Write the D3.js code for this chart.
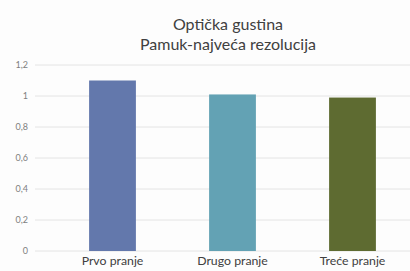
<!DOCTYPE html>
<html>
<head>
<meta charset="utf-8">
<script src="https://cdn.jsdelivr.net/npm/d3@7"></script>
<style>
  body { margin: 0; background: #fdfdfd; }
  svg { display: block; }
</style>
</head>
<body>
<svg width="410" height="271"></svg>
<script>
const categories = ['Prvo pranje', 'Drugo pranje', 'Treće pranje']
const values = [1.10, 1.01, 0.99]
const colors = ['#6378ac', '#63a2b4', '#5e6b31']
const ticks = [0, 0.2, 0.4, 0.6, 0.8, 1, 1.2]
const titleLines = ['Optička gustina', 'Pamuk-najveća rezolucija']

const svg = d3.select('svg')
const width = +svg.attr('width')

const x = d3.scaleBand()
  .domain(categories)
  .range([52.5, 412.5])
  .paddingInner(0.61)
  .paddingOuter(0.305)

const y = d3.scaleLinear()
  .domain([0, 1.2])
  .range([251, 65])

// gridlines
svg.append('g')
  .selectAll('line')
  .data(ticks)
  .join('line')
  .attr('x1', 35)
  .attr('x2', width)
  .attr('y1', d => y(d))
  .attr('y2', d => y(d))
  .style('stroke', '#e4e4e4')
  .style('stroke-width', 1)

// y labels
svg.append('g')
  .selectAll('text')
  .data(ticks)
  .join('text')
  .attr('x', 28)
  .attr('y', d => y(d))
  .attr('dy', '0.35em')
  .style('text-anchor', 'end')
  .style('font-family', 'Lato, sans-serif')
  .style('font-size', '9px')
  .style('fill', '#7f7f7f')
  .text(d => d3.format('.1f')(d).replace(/\.0$/, '').replace('.', ','))

// bars
svg.append('g')
  .selectAll('rect')
  .data(values)
  .join('rect')
  .attr('x', (d, i) => x(categories[i]))
  .attr('width', x.bandwidth())
  .attr('y', d => y(d))
  .attr('height', d => y(0) - y(d))
  .style('fill', (d, i) => colors[i])

// x labels
svg.append('g')
  .selectAll('text')
  .data(categories)
  .join('text')
  .attr('x', d => x(d) + x.bandwidth() / 2)
  .attr('y', 265)
  .style('text-anchor', 'middle')
  .style('font-family', 'Lato, sans-serif')
  .style('font-size', '12.3px')
  .style('fill', '#404040')
  .text(d => d)

// title
svg.append('g')
  .selectAll('text')
  .data(titleLines)
  .join('text')
  .attr('x', 228)
  .attr('y', (d, i) => 30 + i * 19.5)
  .style('text-anchor', 'middle')
  .style('font-family', 'Lato, sans-serif')
  .style('font-size', '16px')
  .style('fill', '#404040')
  .text(d => d)
</script>
</body>
</html>
